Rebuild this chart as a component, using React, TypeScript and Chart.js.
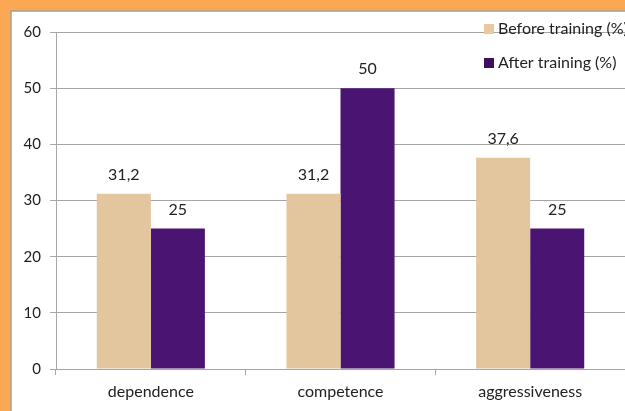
import React, { useEffect, useRef } from "react";
import { Chart, registerables } from "chart.js";

Chart.register(...registerables);

const categories = ["dependence", "competence", "aggressiveness"];
const beforeTraining = [31.2, 31.2, 37.6];
const afterTraining = [25, 50, 25];
const seriesNames = ["Before training (%)", "After training (%)"];
const seriesColors = ["#e3c69e", "#4a1572"];
const legendColors = ["#e8c9a0", "#3d0f5e"];

const FONT = "Lato, 'Open Sans', sans-serif";
const fmt = (v: number) => String(v).replace(".", ",");

const backgroundPlugin = {
  id: "bgFrame",
  beforeDraw(chart: any) {
    const { ctx, width, height } = chart;
    ctx.save();
    ctx.fillStyle = "#fba855";
    ctx.fillRect(0, 0, width, height);
    ctx.fillStyle = "#ffffff";
    ctx.fillRect(11, 11, width - 11, height - 11);
    ctx.strokeStyle = "#a0a0a0";
    ctx.lineWidth = 1.5;
    ctx.beginPath();
    ctx.moveTo(11, height);
    ctx.lineTo(11, 11);
    ctx.lineTo(width, 11);
    ctx.stroke();
    ctx.restore();
  },
};

const valueLabelPlugin = {
  id: "valueLabels",
  afterDatasetsDraw(chart: any) {
    const { ctx } = chart;
    ctx.save();
    ctx.fillStyle = "#222222";
    ctx.font = `16px ${FONT}`;
    ctx.textAlign = "center";
    ctx.textBaseline = "middle";
    chart.data.datasets.forEach((ds: any, i: number) => {
      const meta = chart.getDatasetMeta(i);
      meta.data.forEach((bar: any, j: number) => {
        ctx.fillText(fmt(ds.data[j]), bar.x, bar.y - 19);
      });
    });
    ctx.restore();
  },
};

const legendPlugin = {
  id: "customLegend",
  afterDraw(chart: any) {
    const { ctx } = chart;
    ctx.save();
    ctx.font = `16px ${FONT}`;
    ctx.textBaseline = "middle";
    ctx.textAlign = "left";
    const rows = [29, 63];
    seriesNames.forEach((name, i) => {
      ctx.fillStyle = legendColors[i];
      ctx.fillRect(484, rows[i] - 5, 10, 10);
      ctx.fillStyle = "#222222";
      ctx.fillText(name, 498, rows[i]);
    });
    ctx.restore();
  },
};

export default function App() {
  const ref = useRef<HTMLCanvasElement>(null);

  useEffect(() => {
    if (!ref.current) return;
    const chart = new Chart(ref.current, {
      type: "bar",
      data: {
        labels: categories,
        datasets: [
          {
            label: seriesNames[0],
            data: beforeTraining,
            backgroundColor: seriesColors[0],
            categoryPercentage: 0.57,
            barPercentage: 1,
          },
          {
            label: seriesNames[1],
            data: afterTraining,
            backgroundColor: seriesColors[1],
            categoryPercentage: 0.57,
            barPercentage: 1,
          },
        ],
      },
      options: {
        responsive: false,
        animation: false,
        layout: { padding: { left: 0, top: 32, right: 0, bottom: 0 } },
        plugins: {
          legend: { display: false },
          tooltip: { enabled: false },
        },
        scales: {
          x: {
            grid: {
              offset: true,
              drawOnChartArea: false,
              drawTicks: true,
              tickLength: 6,
              color: "#a6a6a6",
            },
            border: { color: "#a6a6a6", width: 1 },
            ticks: {
              color: "#222222",
              font: { family: FONT, size: 16 },
              padding: 7,
            },
            afterFit: (s: any) => {
              s.height = 42;
            },
          },
          y: {
            min: 0,
            max: 60,
            ticks: {
              stepSize: 10,
              color: "#222222",
              font: { family: FONT, size: 15 },
              padding: 9,
            },
            grid: { color: "#a6a6a6", tickLength: 6 },
            border: { color: "#a6a6a6", width: 1 },
            afterFit: (s: any) => {
              s.width = 56;
            },
          },
        },
      },
      plugins: [backgroundPlugin, valueLabelPlugin, legendPlugin],
    });
    return () => chart.destroy();
  }, []);

  return (
    <canvas
      ref={ref}
      width={625}
      height={411}
      style={{ position: "fixed", left: 0, top: 0, width: 625, height: 411 }}
    />
  );
}
